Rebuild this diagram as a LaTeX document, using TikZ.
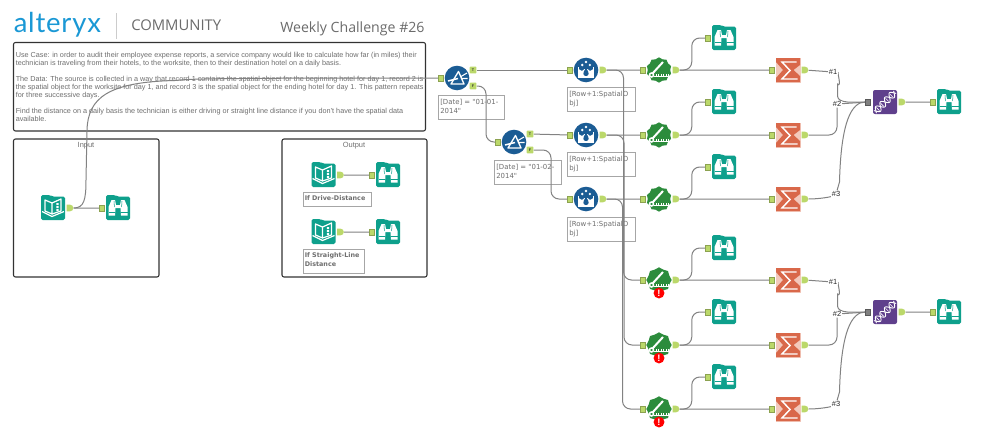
\documentclass[tikz,border=0pt]{standalone}
\usepackage{fontspec}
\setmainfont{Liberation Sans}
\newfontfamily\logofont[LetterSpace=3]{Lato}
\newfontfamily\headfont{Open Sans}
\newfontfamily\notefont{DejaVu Sans}
\usetikzlibrary{shapes.geometric,shapes.misc,calc}
\pgfdeclarelayer{lowlayer}\pgfdeclarelayer{wirelayer}
\pgfsetlayers{lowlayer,wirelayer,main}
\definecolor{cteal}{HTML}{0EA08C}
\definecolor{cblue}{HTML}{1B5C94}
\definecolor{cgreen}{HTML}{2C8C3C}
\definecolor{corange}{HTML}{D9684A}
\definecolor{cpale}{HTML}{F3C9BC}
\definecolor{cpurple}{HTML}{5F3F8C}
\definecolor{cport}{HTML}{BBD86A}
\definecolor{cwire}{HTML}{828282}
\definecolor{ctext}{HTML}{6E6E6E}
\definecolor{clogo}{HTML}{1A98D5}
\tikzset{
 wire/.style={draw=cwire,line width=0.75pt},
 swire/.style={wire,rounded corners=6pt},
 inport/.style={rectangle,fill=cport,draw=cport!75!black,line width=0.2pt,minimum width=3.6pt,minimum height=4.6pt,inner sep=0pt},
 muxport/.style={rectangle,fill=gray,draw=gray!70!black,line width=0.2pt,minimum width=3.6pt,minimum height=4.6pt,inner sep=0pt},
 outport/.style={rounded rectangle,rounded rectangle west arc=none,fill=cport,minimum width=4pt,minimum height=5pt,inner sep=0pt},
 tfport/.style={rectangle,rounded corners=0.5pt,fill=cport,minimum width=5pt,minimum height=5pt,inner sep=0pt,font=\fontsize{2.8}{3}\selectfont\bfseries,text=black!80},
 iconbase/.style={minimum size=18pt,inner sep=0pt},
 container/.style={draw=black!80,line width=0.8pt,rounded corners=1.5pt},
 noteline/.style={draw=black!35,line width=0.7pt},
 annot/.style={anchor=north west,inner sep=0pt,align=left,text=ctext,font=\notefont\fontsize{5.2}{7}\selectfont},
 annotb/.style={anchor=north west,inner sep=0pt,align=left,text=ctext,font=\notefont\bfseries\fontsize{4.8}{7}\selectfont},
 wirelabel/.style={fill=white,inner sep=0.6pt,text=black!85,font=\fontsize{5.6}{6}\selectfont},
 errdot/.style={circle,fill=red,text=white,minimum size=8.2pt,inner sep=0pt,font=\bfseries\fontsize{7}{7}\selectfont},
 boxtitle/.style={text=black!55,font=\fontsize{5.6}{6}\selectfont},
 pics/tealbg/.style={code={
   \fill[cteal,rounded corners=1.2pt] (-12,-13)--(-3,-13)--(-1,-11.5)--(12,-11.5)--(12,12)--(-12,12)--cycle;}},
 pics/browseglyph/.style={code={
   \fill[white] (-9.5,7.5)--(-9.5,-1)--(-6.5,-8)--(-3,-8)--(-2,-3)--(2,-3)--(3,-8)--(6.5,-8)--(9.5,-1)--(9.5,7.5)--(3,7.5)--(2.5,0)--(-2.5,0)--(-3,7.5)--cycle;
   \draw[cteal,line width=0.5pt] (-9.5,4)--(-3,4) (3,4)--(9.5,4) (0,-8)--(0,-3);
   \draw[cteal,line width=0.4pt] (-4,-7)--(-3.6,-1) (4,-7)--(3.6,-1);}},
 pics/bookglyph/.style={code={
   \draw[white,line width=0.9pt,line join=round] (-8,-8)--(-1,-5)--(-1,6)--(-8,3)--cycle;
   \draw[white,line width=0.9pt,line join=round] (-1,-5)--(8,-9)--(8,3)--(-1,6);
   \draw[white,line width=0.9pt] (-11,3.5)--(-1,8.5)--(11,3.5);
   \fill[white] (3.3,-5) rectangle (5.5,-3) (3.3,-2) rectangle (5.5,0) (3.3,1) rectangle (5.5,3);}},
 pics/filterglyph/.style={code={
   \fill[cblue] (0,0) circle (12.3);
   \draw[white,line width=1pt,line join=round] (1.5,-6.5)--(-6,6)--(7,6)--cycle;
   \draw[white,line width=1.1pt] (-9,3)--(1,0.5);
   \draw[white,line width=0.8pt] (4,-1.5)--(10,-5) (5,0.5)--(10.5,0.5);}},
 pics/formulaglyph/.style={code={
   \fill[cblue] (0,0) circle (12.3);
   \draw[white,line width=1.3pt] (-7.5,-3) -- (-7.5,7.5) -- (7.5,7.5) -- (7.5,-3);
   \fill[white] (-7.5,-1)--(-4,1)--(-1.5,-1)--(1.5,-1)--(4,1)--(7.5,-1)--(7.5,7)--(-7.5,7)--cycle;
   \fill[cblue] (0,-2) .. controls (-4,3) and (-3,6) .. (0,6) .. controls (3,6) and (4,3) .. (0,-2);
   \fill[white] (-3.8,-5) circle (1.3) (0,-8) circle (1.4) (3.8,-5) circle (1.3);}},
 pics/rulerglyph/.style={code={
   \draw[white,line width=1.5pt] (-6.5,3.5)--(4,-8);
   \draw[white,line width=1.1pt] (-7.5,5) circle (2);
   \draw[white,line width=1.4pt] (-5,6.5)--(10,6.5);
   \foreach \u in {-3,-0.5,2,4.5,7,9.5}{\draw[white,line width=0.5pt] (\u,6.5)--(\u,3.8);}}},
 pics/sumglyph/.style={code={
   \fill[cpale] (-12.5,-12.5) rectangle (12.5,12.5);
   \fill[corange] (-12,-12)--(12,-12)--(12,-5)--(5.5,0)--(12,6)--(12,12)--(-12,12)--(-12,8)--(-5,0)--(-12,-8)--cycle;
   \draw[white,line width=1.1pt,line join=miter] (8.5,-8)--(-6,-8)--(2,0.5)--(-6,9)--(9.5,9);}},
 pics/unionglyph/.style={code={
   \fill[cpurple,rounded corners=1.5pt] (-12,-12) rectangle (12,12);
   \begin{scope}[rotate=45]
   \draw[white,line width=0.7pt] plot[domain=-14:14,samples=45,smooth] (\x,{3.4*sin(\x*28)});
   \draw[white,line width=0.7pt] plot[domain=-14:14,samples=45,smooth] (\x,{-3.4*sin(\x*28)});
   \foreach \u in {-10,-4,3,9}{\draw[white,line width=0.5pt] (\u,-2.2)--(\u,2.2);}
   \end{scope}}},
}
\newcommand\browseTool[3]{%
 \node[iconbase] (#1) at (#2,#3) {};
 \pic at (#2,#3) {tealbg}; \pic at (#2,#3) {browseglyph};
 \node[inport] (#1i) at (#2-16.5,#3) {};}
\newcommand\bookTool[3]{%
 \node[iconbase] (#1) at (#2,#3) {};
 \pic at (#2,#3) {tealbg}; \pic at (#2,#3) {bookglyph};
 \node[outport] (#1o) at (#2+17,#3) {};}
\newcommand\filterTool[3]{%
 \node[iconbase] (#1) at (#2,#3) {};
 \pic at (#2,#3) {filterglyph};
 \node[inport] (#1i) at (#2-16,#3) {};
 \node[tfport] (#1t) at (#2+16,#3-8) {T};
 \node[tfport] (#1f) at (#2+16,#3+8) {F};}
\newcommand\formulaTool[3]{%
 \node[iconbase] (#1) at (#2,#3) {};
 \pic at (#2,#3) {formulaglyph};
 \node[inport] (#1i) at (#2-16.5,#3) {};
 \node[outport] (#1o) at (#2+17,#3) {};}
\newcommand\distTool[4][10]{%
 \node[star,star points=#1,star point ratio=1.13,fill=cgreen,minimum size=19pt,inner sep=0pt] (#2) at (#3,#4) {};
 \pic at (#3,#4) {rulerglyph};
 \node[inport] (#2i) at (#3-16.5,#4) {};
 \node[outport] (#2o) at (#3+17,#4) {};}
\newcommand\sumTool[3]{%
 \node[iconbase] (#1) at (#2,#3) {};
 \pic at (#2,#3) {sumglyph};
 \node[inport] (#1i) at (#2-16.5,#3) {};
 \node[outport] (#1o) at (#2+17,#3) {};}
\newcommand\unionTool[3]{%
 \node[iconbase] (#1) at (#2,#3) {};
 \pic at (#2,#3) {unionglyph};
 \node[muxport] (#1i) at (#2-17,#3) {};
 \node[outport] (#1o) at (#2+17,#3) {};}
\begin{document}
\begin{tikzpicture}[x=0.75pt,y=-0.75pt]
\useasboundingbox (0,0) rectangle (999,446);
\node[anchor=base west,inner sep=0pt,text=clogo,font=\logofont\fontsize{20.6}{23}\selectfont] (logo) at (13.5,32) {alteryx};
\coordinate (bartop) at (116.5,13); \coordinate (barbot) at (116.5,39);
\draw[black!20,line width=0.8pt] (bartop)--(barbot);
\node[anchor=base west,inner sep=0pt,text=black!58,font=\headfont\fontsize{11.1}{12}\selectfont] (comm) at (131,31) {COMMUNITY};
\node[anchor=base west,inner sep=0pt,text=black!58,font=\headfont\fontsize{10.6}{12}\selectfont] (title) at (280,32) {Weekly Challenge \#26};
\begin{pgfonlayer}{lowlayer}
\fill[white] (0,0) rectangle (999,446);
\draw[container] (13.5,42.5) rectangle (425.5,131);
\draw[container] (13.5,139) rectangle (159,277);
\draw[container] (282,139) rectangle (427,277);
\node[anchor=north west,inner sep=0pt,align=left,text=ctext,font=\fontsize{5.44}{6.05}\selectfont] (usecase) at (15.5,51.5) {Use Case:  in order to audit their employee expense reports, a service company would like to calculate how far (in miles) their\\technician is traveling from their hotels,  to the worksite, then to their destination hotel on a daily basis.\\[6.05pt]The Data:  The source is collected in a way that record 1 contains the spatial object for the beginning hotel for day 1, record 2 is\\the spatial object for the worksite for day 1, and record 3 is the spatial object for the ending hotel for day 1.  This pattern repeats\\for three successive days.\\[6.05pt]Find the distance on a daily basis the technician is either driving or straight line distance if you don't have the spatial data\\available.};
\node[boxtitle] (intitle) at (86,146) {Input};
\node[boxtitle] (outtitle) at (354,146) {Output};
\draw[noteline] (303,192.5) rectangle (371,206.5);
\node[annotb] (drv) at (304.5,195.5) {If Drive-Distance};
\draw[noteline] (303,249) rectangle (364,273);
\node[annotb] (str) at (304.5,252.5) {If Straight-Line\\Distance};
\draw[noteline] (438,95) rectangle (504,119);
\node[annot] (d1) at (440,99) {[Date] = "01-01-\\2014"};
\draw[noteline] (494,160) rectangle (561,184);
\node[annot] (d2) at (496,164) {[Date] = "01-02-\\2014"};
\draw[noteline] (567,87) rectangle (635,111);
\node[annot] (r1) at (569,91) {[Row+1:SpatialO\\bj]};
\draw[noteline] (567,152) rectangle (635,176);
\node[annot] (r2) at (569,156) {[Row+1:SpatialO\\bj]};
\draw[noteline] (567,217) rectangle (635,241);
\node[annot] (r3) at (569,221) {[Row+1:SpatialO\\bj]};
\end{pgfonlayer}
\bookTool{ina}{53}{208}
\browseTool{inb}{118}{208}
\bookTool{oa}{323.5}{175}
\browseTool{ob}{388}{175}
\bookTool{oc}{323.5}{232}
\browseTool{od}{388}{232}
\filterTool{fa}{457}{78}
\filterTool{fb}{514}{142}
\formulaTool{ma}{586}{70}
\formulaTool{mb}{586}{135}
\formulaTool{mc}{586}{199}
\distTool{da}{659}{70}
\distTool{db}{659}{135}
\distTool{dc}{659}{199}
\distTool[8]{dd}{659}{280}
\distTool[8]{de}{659}{345}
\distTool[8]{df}{659}{409}
\browseTool{ba}{724}{38}
\browseTool{bb}{724}{102}
\browseTool{bc}{724}{167}
\browseTool{bd}{724}{248}
\browseTool{be}{724}{312}
\browseTool{bf}{724}{377}
\sumTool{sa}{788}{70}
\sumTool{sb}{788}{135}
\sumTool{sc}{788}{199}
\sumTool{sd}{788}{280}
\sumTool{se}{788}{345}
\sumTool{sf}{788}{409}
\unionTool{ua}{885}{102}
\unionTool{ub}{885}{312}
\browseTool{va}{949}{102}
\browseTool{vb}{949}{312}
\node[errdot] (ea) at (659,293) {!};
\node[errdot] (eb) at (659,358) {!};
\node[errdot] (ec) at (659,422) {!};
\node[wirelabel] (la) at (833,72) {\#1};
\node[wirelabel] (lb) at (837,104) {\#2};
\node[wirelabel] (lc) at (836,194) {\#3};
\node[wirelabel] (ld) at (833,282) {\#1};
\node[wirelabel] (le) at (837,314) {\#2};
\node[wirelabel] (lf) at (836,404) {\#3};
\begin{pgfonlayer}{wirelayer}
\draw[wire] (inao)--(inbi);
\draw[wire] (oao)--(obi);
\draw[wire] (oco)--(odi);
\draw[wire] (inao) .. controls (84,208) and (86,200) .. (86,180) -- (87,130) .. controls (88,98) and (108,82) .. (175,80.5) .. controls (190,79) and (200,78) .. (fai);
\draw[wire] (fat)--(mai);
\draw[swire] (faf) -| (486,114) |- (fbi);
\draw[wire] (fbt)--(mbi);
\draw[swire] (fbf) -| (551,175) |- (mci);
\draw[wire] (mao)--(dai);
\draw[wire] (mbo)--(dbi);
\draw[wire] (mco)--(dci);
\draw[swire] (mao) -| (623.5,175) |- (ddi);
\draw[swire] (mbo) -| (624,240) |- (dei);
\draw[swire] (mco) -| (622.5,300) |- (dfi);
\foreach \d/\b/\s in {da/ba/sa,db/bb/sb,dc/bc/sc,dd/bd/sd,de/be/se,df/bf/sf}{
 \draw[swire] (\d o) -| ($(\d o)!0.5!(\b i)$) |- (\b i);
 \draw[wire] (\d o)--(\s i);
}
\foreach \s/\l/\v in {sa/la/ua,sd/ld/ub}{
 \draw[wire] (\s o) -- (\l);
 \draw[wire] (\l) .. controls ++(4,0) and ++(4.5,4) .. ++(4.5,12) -- ++(0,12) .. controls ++(0.5,8) and ++(-14,0) .. (\v i);
}
\foreach \s/\l/\v in {sb/lb/ua,se/le/ub}{
 \draw[swire] (\s o) -| (\l);
 \draw[wire] (\l) -- (\v i);
}
\foreach \s/\l/\v in {sc/lc/ua,sf/lf/ub}{
 \draw[wire] (\s o) .. controls ++(14,0) and ++(-6,3) .. (\l);
 \draw[wire] (\l) -- ++(3.5,-12) .. controls ++(1.5,-62) and ++(-16,0) .. (\v i);
}
\draw[wire] (uao)--(vai);
\draw[wire] (ubo)--(vbi);
\end{pgfonlayer}
\end{tikzpicture}
\end{document}
